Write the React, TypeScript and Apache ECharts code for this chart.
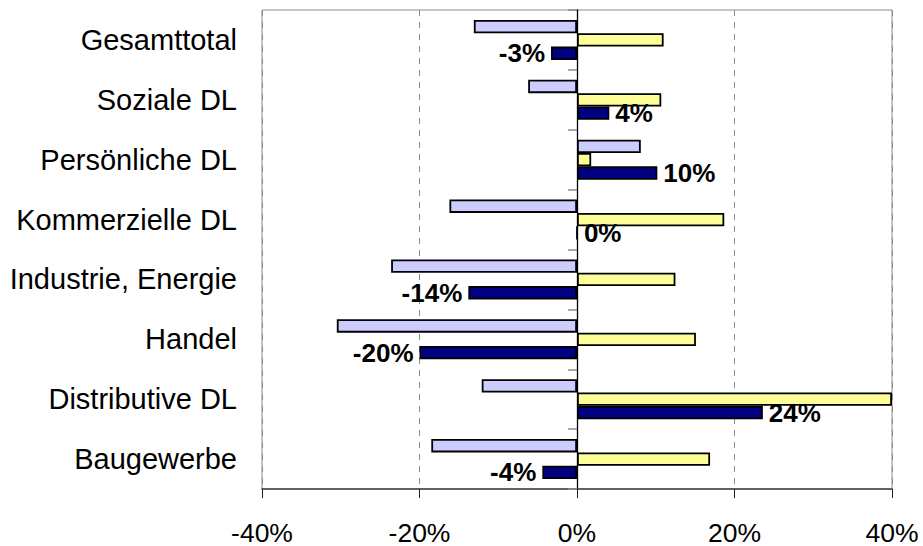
import React, { useEffect, useRef } from "react";
import * as echarts from "echarts";

const categories = [
  "Baugewerbe",
  "Distributive DL",
  "Handel",
  "Industrie, Energie",
  "Kommerzielle DL",
  "Persönliche DL",
  "Soziale DL",
  "Gesamttotal",
];
const seriesLavender = [-18.5, -12.1, -30.5, -23.6, -16.2, 8.1, -6.2, -13.1];
const seriesYellow = [16.9, 40, 15.1, 12.5, 18.7, 1.8, 10.7, 11.0];
const seriesNavy = [-4.4, 23.6, -20.0, -13.8, 0, 10.2, 4.1, -3.3];
const xTicks = [-40, -20, 0, 20, 40];

const FONT = "'Liberation Sans', Arial, sans-serif";

export default function App() {
  const ref = useRef<HTMLDivElement>(null);
  useEffect(() => {
    document.body.style.margin = "0";
    if (!ref.current) return;
    const chart = echarts.init(ref.current, null, { renderer: "svg" });
    const gridLeft = 262;
    const gridRight = 31;
    const width = 923;
    const plotW = width - gridLeft - gridRight;
    const zeroOffset = -plotW * ((0 - xTicks[0]) / (xTicks[xTicks.length - 1] - xTicks[0]));
    const barStyle = (color: string) => ({
      color,
      borderColor: "#000000",
      borderWidth: 1.8,
    });
    chart.setOption({
      animation: false,
      grid: {
        left: gridLeft,
        right: gridRight,
        top: 10,
        bottom: 57,
        show: true,
        borderColor: "#8c8c8c",
        borderWidth: 1,
        backgroundColor: "transparent",
      },
      xAxis: {
        type: "value",
        min: -40,
        max: 40,
        interval: 20,
        axisLine: { show: true, lineStyle: { color: "#404040", width: 1.5 } },
        axisTick: { show: true, length: 9, lineStyle: { color: "#202020", width: 1 } },
        axisLabel: {
          margin: 30,
          fontFamily: FONT,
          fontSize: 26.5,
          color: "#000",
          formatter: (v: number) => v + "%",
        },
        splitLine: {
          show: true,
          lineStyle: { color: "#8c8c8c", type: [6, 6], width: 1 },
        },
      },
      yAxis: [
        {
          type: "category",
          data: categories,
          position: "left",
          axisLine: { show: false },
          axisTick: { show: false },
          axisLabel: {
            margin: 25,
            fontFamily: FONT,
            fontSize: 29,
            color: "#000",
          },
          splitLine: { show: false },
        },
        {
          type: "category",
          data: categories,
          position: "left",
          offset: zeroOffset,
          axisLine: { show: true, onZero: false, lineStyle: { color: "#000", width: 1.3 } },
          axisTick: { show: true, length: 9, lineStyle: { color: "#8c8c8c", width: 1.5 } },
          axisLabel: { show: false },
          splitLine: { show: false },
        },
      ],
      series: [
        {
          type: "bar",
          data: seriesLavender,
          yAxisIndex: 0,
          barGap: "0%",
          barCategoryGap: "33%",
          itemStyle: barStyle("#CCCCFF"),
          z: 2,
        },
        {
          type: "bar",
          data: seriesYellow,
          yAxisIndex: 0,
          barGap: "0%",
          barCategoryGap: "33%",
          itemStyle: barStyle("#FFFF99"),
          z: 2,
        },
        {
          type: "bar",
          data: seriesNavy.map((v) => ({
            value: v,
            label: { position: v < 0 ? "left" : "right" },
          })),
          yAxisIndex: 0,
          barGap: "0%",
          barCategoryGap: "33%",
          itemStyle: barStyle("#000080"),
          z: 2,
          label: {
            show: true,
            distance: 6,
            fontFamily: FONT,
            fontSize: 26,
            fontWeight: "bold",
            color: "#000",
            formatter: (p: any) => Math.round(p.value) + "%",
          },
        },
      ],
    });
    return () => chart.dispose();
  }, []);
  return <div ref={ref} style={{ width: 923, height: 546 }} />;
}
